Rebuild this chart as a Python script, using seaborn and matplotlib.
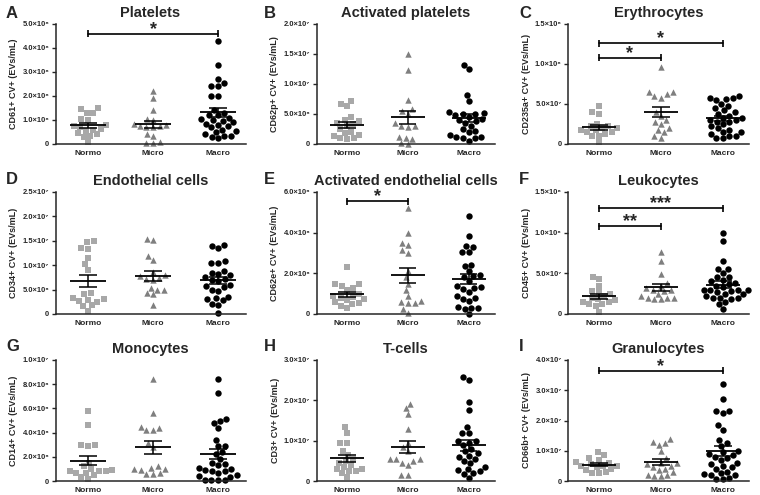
import matplotlib
matplotlib.use("Agg")
import matplotlib.pyplot as plt
import seaborn as sns
import pandas as pd
import numpy as np

# group names on every x axis
groups = ["Normo", "Micro", "Macro"]

# A: platelets (x1e8)
plt_normo = [1.5, 1.45, 1.3, 1.28, 1.05, 1.02, 0.6, 0.62, 0.78, 0.75, 0.7, 0.55, 0.45, 0.4, 0.35, 0.3, 0.1]
plt_micro = [2.2, 1.9, 1.4, 1.05, 1.0, 0.85, 0.8, 0.75, 0.75, 0.7, 0.7, 0.4, 0.35, 0.1, 0.05, 0.05]
plt_macro = [4.3, 3.3, 2.7, 2.55, 2.42, 2.4, 2.0, 2.0, 1.4, 1.3, 1.2, 1.2, 1.1, 1.05, 1.0, 0.95, 0.9,
             0.85, 0.8, 0.75, 0.7, 0.6, 0.55, 0.5, 0.4, 0.35, 0.35, 0.3, 0.25]
# B: activated platelets (x1e7)
act_plt_normo = [0.72, 0.67, 0.63, 0.45, 0.40, 0.38, 0.35, 0.33, 0.30, 0.25, 0.20, 0.18, 0.15, 0.13, 0.10, 0.10, 0.08]
act_plt_micro = [1.5, 1.23, 0.74, 0.58, 0.55, 0.5, 0.35, 0.3, 0.3, 0.28, 0.12, 0.1, 0.08, 0.02, 0.0]
act_plt_macro = [1.32, 1.25, 0.82, 0.72, 0.53, 0.52, 0.5, 0.5, 0.48, 0.45, 0.42, 0.4, 0.38, 0.35, 0.3, 0.25,
                 0.22, 0.2, 0.15, 0.12, 0.12, 0.1, 0.1, 0.05]
# C: erythrocytes (x1e8)
ery_normo = [0.47, 0.38, 0.4, 0.22, 0.25, 0.22, 0.2, 0.2, 0.18, 0.17, 0.15, 0.15, 0.12, 0.1, 0.1, 0.02]
ery_micro = [0.96, 0.65, 0.65, 0.62, 0.6, 0.58, 0.4, 0.35, 0.3, 0.28, 0.25, 0.2, 0.18, 0.15, 0.1, 0.08]
ery_macro = [0.6, 0.58, 0.57, 0.56, 0.55, 0.5, 0.48, 0.45, 0.42, 0.4, 0.38, 0.35, 0.33, 0.32, 0.3, 0.3, 0.28,
             0.27, 0.25, 0.22, 0.2, 0.18, 0.15, 0.15, 0.12, 0.1, 0.1, 0.08, 0.07]
# D: endothelial cells (x1e7)
endo_normo = [1.5, 1.47, 1.36, 1.34, 1.14, 1.02, 0.9, 0.44, 0.4, 0.33, 0.3, 0.29, 0.26, 0.25, 0.18, 0.16, 0.07]
endo_micro = [1.54, 1.51, 1.18, 1.1, 0.86, 0.8, 0.77, 0.74, 0.72, 0.7, 0.53, 0.5, 0.5, 0.43, 0.4, 0.18]
endo_macro = [1.42, 1.4, 1.35, 1.08, 1.05, 1.05, 0.88, 0.85, 0.82, 0.8, 0.75, 0.72, 0.7, 0.68, 0.6, 0.58,
              0.55, 0.5, 0.48, 0.35, 0.33, 0.3, 0.28, 0.2, 0.18, 0.02]
# E: activated endothelial cells (x1e6)
act_endo_normo = [2.3, 1.5, 1.5, 1.4, 1.3, 1.2, 1.0, 0.9, 0.85, 0.8, 0.75, 0.7, 0.6, 0.55, 0.5, 0.4, 0.3]
act_endo_micro = [5.2, 4.0, 3.5, 3.4, 3.15, 3.0, 2.1, 1.8, 1.5, 1.2, 0.9, 0.65, 0.6, 0.55, 0.55, 0.25, 0.05]
act_endo_macro = [4.8, 3.85, 3.35, 3.3, 3.05, 3.05, 2.4, 2.35, 2.1, 1.9, 1.85, 1.8, 1.6, 1.4, 1.35, 1.3,
                  1.25, 1.1, 0.9, 0.8, 0.75, 0.65, 0.35, 0.3, 0.3, 0.25, 0.0]
# F: leukocytes (x1e8)
leuk_normo = [0.45, 0.43, 0.35, 0.28, 0.27, 0.25, 0.22, 0.2, 0.18, 0.17, 0.15, 0.15, 0.12, 0.12, 0.1, 0.03]
leuk_micro = [0.76, 0.65, 0.49, 0.38, 0.35, 0.32, 0.3, 0.3, 0.28, 0.25, 0.22, 0.2, 0.2, 0.2, 0.18, 0.18]
leuk_macro = [1.0, 0.9, 0.65, 0.55, 0.55, 0.5, 0.45, 0.45, 0.42, 0.4, 0.38, 0.37, 0.35, 0.33, 0.3, 0.3, 0.3,
              0.3, 0.28, 0.27, 0.25, 0.25, 0.22, 0.2, 0.2, 0.2, 0.18, 0.15, 0.12, 0.06]
# G: monocytes (x1e6)
mono_normo = [5.75, 4.6, 3.0, 2.95, 2.9, 1.5, 1.2, 1.0, 0.9, 0.8, 0.85, 0.8, 0.7, 0.65, 0.5, 0.3, 0.2]
mono_micro = [8.4, 5.6, 4.5, 4.4, 4.2, 4.2, 3.1, 2.8, 1.2, 1.1, 1.0, 1.0, 0.9, 0.7, 0.6, 0.6]
mono_macro = [8.4, 7.3, 5.15, 4.95, 4.8, 4.4, 3.4, 2.9, 2.9, 2.4, 2.2, 1.8, 1.5, 1.4, 1.3, 1.1, 1.0, 0.9,
              0.8, 0.8, 0.7, 0.5, 0.4, 0.35, 0.1, 0.05, 0.05, 0.05]
# H: T-cells (x1e7)
tcell_normo = [1.35, 1.2, 0.95, 0.95, 0.75, 0.65, 0.55, 0.5, 0.45, 0.4, 0.35, 0.3, 0.3, 0.25, 0.25, 0.2, 0.1]
tcell_micro = [1.92, 1.8, 1.65, 1.3, 0.95, 0.85, 0.75, 0.55, 0.55, 0.55, 0.5, 0.45, 0.4, 0.15, 0.15]
tcell_macro = [2.57, 2.5, 1.95, 1.75, 1.35, 1.2, 1.2, 1.0, 0.98, 0.95, 0.9, 0.8, 0.75, 0.7, 0.62, 0.6, 0.55,
               0.5, 0.45, 0.35, 0.3, 0.28, 0.25, 0.2, 0.18, 0.08]
# I: granulocytes (x1e7)
gran_normo = [0.95, 0.85, 0.75, 0.7, 0.62, 0.6, 0.55, 0.5, 0.5, 0.48, 0.45, 0.4, 0.35, 0.3, 0.28, 0.25]
gran_micro = [1.4, 1.3, 1.25, 1.2, 1.0, 0.75, 0.6, 0.6, 0.55, 0.5, 0.45, 0.4, 0.35, 0.3, 0.2, 0.15, 0.15, 0.2]
gran_macro = [3.22, 2.7, 2.3, 2.3, 2.25, 1.85, 1.7, 1.35, 1.25, 1.15, 1.0, 0.95, 0.9, 0.85, 0.8, 0.75, 0.7,
              0.6, 0.55, 0.5, 0.45, 0.4, 0.3, 0.25, 0.22, 0.2, 0.2, 0.1, 0.08, 0.05]

letters = list("ABCDEFGHI")
titles = ["Platelets", "Activated platelets", "Erythrocytes",
          "Endothelial cells", "Activated endothelial cells", "Leukocytes",
          "Monocytes", "T-cells", "Granulocytes"]
ylabels = ["CD61+ CV+ (EVs/mL)", "CD62p+ CV+ (EVs/mL)", "CD235a+ CV+ (EVs/mL)",
           "CD34+ CV+ (EVs/mL)", "CD62e+ CV+ (EVs/mL)", "CD45+ CV+ (EVs/mL)",
           "CD14+ CV+ (EVs/mL)", "CD3+ CV+ (EVs/mL)", "CD66b+ CV+ (EVs/mL)"]
units = [1e8, 1e7, 1e8, 1e7, 1e6, 1e8, 1e6, 1e7, 1e7]
ytops = [5.0, 2.0, 1.5, 2.5, 6.0, 1.5, 10.0, 3.0, 4.0]
ysteps = [1.0, 0.5, 0.5, 0.5, 2.0, 0.5, 2.0, 1.0, 1.0]
panel_data = [
    (plt_normo, plt_micro, plt_macro),
    (act_plt_normo, act_plt_micro, act_plt_macro),
    (ery_normo, ery_micro, ery_macro),
    (endo_normo, endo_micro, endo_macro),
    (act_endo_normo, act_endo_micro, act_endo_macro),
    (leuk_normo, leuk_micro, leuk_macro),
    (mono_normo, mono_micro, mono_macro),
    (tcell_normo, tcell_micro, tcell_macro),
    (gran_normo, gran_micro, gran_macro),
]
# significance brackets: panel, from group, to group, height (panel units), label
sig_panel = [0, 2, 2, 4, 5, 5, 8]
sig_from = [0, 0, 0, 0, 0, 0, 0]
sig_to = [2, 1, 2, 1, 1, 2, 2]
sig_height = [4.6, 1.08, 1.26, 5.55, 1.08, 1.30, 3.65]
sig_label = ["*", "*", "*", "*", "**", "***", "*"]

markers = ["s", "^", "o"]
colors = ["#a8a8a8", "#7f7f7f", "#000000"]

sns.set_style("ticks")
plt.rcParams["font.family"] = ["Liberation Sans", "DejaVu Sans"]
plt.rcParams["font.weight"] = "bold"

SUP = str.maketrans("0123456789", "⁰¹²³⁴⁵⁶⁷⁸⁹")


def sci_label(v):
    if v == 0:
        return "0"
    e = int(np.floor(np.log10(v) + 1e-9))
    m = v / 10 ** e
    return f"{m:.1f}×10" + str(e).translate(SUP)


W, H = 760, 495
col_left = [55.5, 316.5, 568]
col_width = [190, 178, 181]
row_top = [24, 192, 360]
row_bottom = [144, 314, 481]
letter_x = [6, 264, 519]
letter_y = [6, 172, 339]

fig = plt.figure(figsize=(7.6, 4.95), dpi=100)
axes = []
for k in range(9):
    r, c = divmod(k, 3)
    ax = fig.add_axes([col_left[c] / W, 1 - row_bottom[r] / H,
                       col_width[c] / W, (row_bottom[r] - row_top[r]) / H])
    axes.append(ax)
    unit = units[k]
    top = ytops[k] * unit
    ax.set_ylim(0, top)
    ax.set_xlim(-0.5, 2.42)

    for i, g in enumerate(groups):
        vals = np.array(panel_data[k][i]) * unit
        sub = pd.DataFrame({"group": g, "value": vals})
        sns.swarmplot(data=sub, x="group", y="value", order=groups, ax=ax,
                      marker=markers[i], color=colors[i], size=4.6,
                      linewidth=0, clip_on=False, zorder=2, warn_thresh=1)
        mean = vals.mean()
        sem = vals.std(ddof=1) / np.sqrt(len(vals))
        ax.hlines(mean, i - 0.28, i + 0.28, color="black", lw=1.3, zorder=3)
        ax.hlines([mean - sem, mean + sem], i - 0.14, i + 0.14, color="black", lw=1.1, zorder=3)
        ax.vlines(i, mean - sem, mean + sem, color="black", lw=1.1, zorder=3)

    ax.set_xlim(-0.5, 2.42)
    ax.set_ylim(0, top)
    ticks = np.arange(0, ytops[k] + ysteps[k] / 2, ysteps[k]) * unit
    ax.set_yticks(ticks)
    ax.set_yticklabels([sci_label(t) for t in ticks], fontsize=5.4, fontweight="bold")
    ax.set_xticks(range(3))
    ax.set_xticklabels(groups, fontsize=6, fontweight="bold")
    ax.tick_params(axis="x", length=0, pad=4)
    ax.tick_params(axis="y", length=3, width=1, pad=1.5)
    ax.set_xlabel("")
    ax.set_ylabel(ylabels[k], fontsize=6.5, fontweight="bold", labelpad=3)
    ax.set_title(titles[k], fontsize=10.5, fontweight="bold", pad=5)
    for s in ["top", "right"]:
        ax.spines[s].set_visible(False)
    for s in ["left", "bottom"]:
        ax.spines[s].set_linewidth(1.1)
    fig.text(letter_x[c] / W, 1 - letter_y[r] / H, letters[k], fontsize=12,
             fontweight="bold", va="top", ha="left")

# significance brackets
for p, a, b, h, lab in zip(sig_panel, sig_from, sig_to, sig_height, sig_label):
    ax = axes[p]
    y = h * units[p]
    d = 0.028 * ytops[p] * units[p]
    ax.plot([a, b], [y, y], color="black", lw=1.2, clip_on=False)
    ax.vlines([a, b], y - d, y + d, color="black", lw=1.2, clip_on=False)
    ax.annotate(lab, xy=((a + b) / 2, y), xytext=(0, -3), textcoords="offset points",
                ha="center", va="bottom", fontsize=13, fontweight="bold", annotation_clip=False)

fig.savefig("out.png", dpi=100)
